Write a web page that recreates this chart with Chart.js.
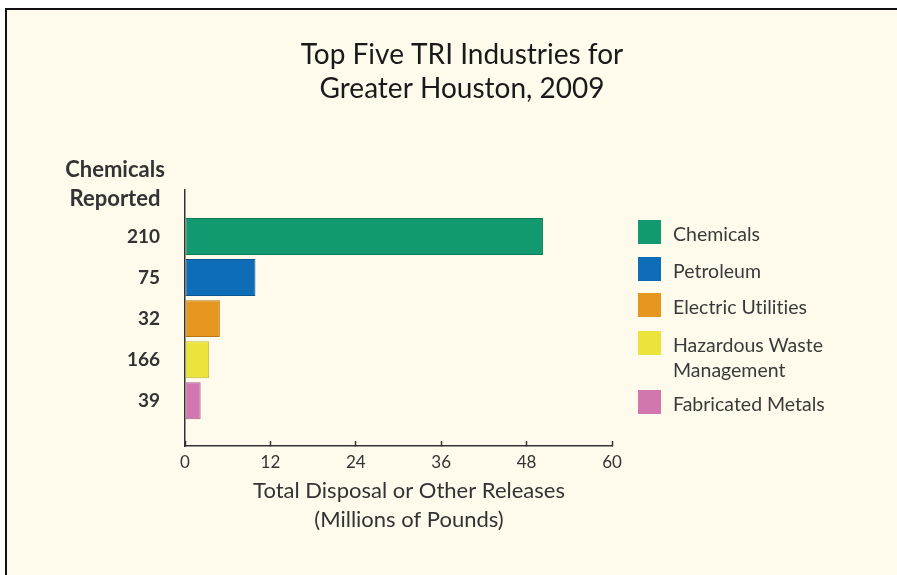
<!DOCTYPE html>
<html>
<head>
<meta charset="utf-8">
<script src="https://cdn.jsdelivr.net/npm/chart.js@4/dist/chart.umd.min.js"></script>
<style>
  html, body { margin: 0; padding: 0; background: #fff; }
  #frame {
    position: absolute; left: 5px; top: 8px; width: 892px; height: 567px;
    border-top: 2px solid #111; border-left: 2px solid #111;
    background: #fffbec; box-sizing: border-box;
  }
  #wrap { position: absolute; left: 0; top: 0; width: 897px; height: 575px; }
  #legend {
    position: absolute; left: 638px; top: 220px;
    font-family: Lato, sans-serif; font-size: 19.5px; color: #3a3a3a;
    font-variant-ligatures: none;
  }
  #legend .item { position: absolute; left: 0; white-space: nowrap; }
  #legend .sw { position: absolute; left: 0; top: 0; width: 23px; height: 24px; box-sizing: border-box; }
  #legend .txt { position: absolute; left: 35px; top: 1px; line-height: 25px; }
</style>
</head>
<body>
<div id="frame"></div>
<div id="wrap"><canvas id="chart"></canvas></div>
<div id="legend"></div>
<script>
const industries = ['Chemicals', 'Petroleum', 'Electric Utilities', 'Hazardous Waste\nManagement', 'Fabricated Metals'];
const chemicalsReported = ['210', '75', '32', '166', '39'];
const releases = [50.3, 9.9, 4.9, 3.4, 2.2];
const xTicks = [0, 12, 24, 36, 48, 60];
const titleLines = ['Top Five TRI Industries for', 'Greater Houston, 2009'];
const yHeading = ['Chemicals', 'Reported'];
const xHeading = ['Total Disposal or Other Releases', '(Millions of Pounds)'];

const fills   = ['#12996f', '#0f6cb6', '#e4961f', '#ece43c', '#d276b0'];
const borders = ['#0d7a58', '#0b5690', '#b97818', '#bdb52e', '#a95b8d'];
const legendTops = [0, 37, 73, 111, 170];

const textColor = '#333';

const headings = {
  id: 'headings',
  afterDraw(chart) {
    const ctx = chart.ctx;
    ctx.save();
    ctx.fillStyle = '#1a1a1a';
    ctx.textAlign = 'center';
    ctx.textBaseline = 'middle';
    ctx.font = '28px Lato, sans-serif';
    titleLines.forEach((t, i) => ctx.fillText(t, 462, 55 + i * 34));
    ctx.fillStyle = textColor;
    ctx.font = 'bold 22px Lato, sans-serif';
    yHeading.forEach((t, i) => ctx.fillText(t, 115, 170 + i * 29));
    // x axis heading sits a bit right of the plot centre in the original
    ctx.font = '22px Lato, sans-serif';
    xHeading.forEach((t, i) => ctx.fillText(t, 409, 491 + i * 29));
    ctx.restore();
  }
};

new Chart(document.getElementById('chart'), {
  type: 'bar',
  data: {
    datasets: [{
      data: releases.map((v, i) => ({ x: v, y: i })),
      backgroundColor: fills,
      borderColor: borders,
      borderWidth: 1,
      borderSkipped: false,
      barPercentage: 0.9,
      categoryPercentage: 1
    }]
  },
  options: {
    indexAxis: 'y',
    responsive: true,
    maintainAspectRatio: false,
    animation: false,
    layout: { padding: { left: 125, right: 285, top: 190, bottom: 41.5 } },
    plugins: { legend: { display: false }, tooltip: { enabled: false }, title: { display: false } },
    scales: {
      x: {
        type: 'linear',
        min: 0, max: 60,
        bounds: 'data',
        afterBuildTicks: s => { s.ticks = xTicks.map(v => ({ value: v })); },
        afterFit: s => { s.height = 87.5; },
        border: { display: true, color: '#333', width: 1.5 },
        grid: { display: true, drawOnChartArea: false, drawTicks: true, tickLength: -5, tickColor: '#333', tickWidth: 1.5 },
        ticks: { padding: 11, color: textColor, font: { family: 'Lato, sans-serif', size: 17 }, maxRotation: 0 }
      },
      y: {
        type: 'linear',
        reverse: true,
        offset: false,
        bounds: 'data',
        min: -1.13, max: 5.1,
        afterBuildTicks: s => { s.ticks = chemicalsReported.map((_, i) => ({ value: i })); },
        afterFit: s => { s.width = 60; },
        border: { display: true, color: '#333', width: 1.5 },
        grid: { display: false, drawTicks: false, offset: false },
        ticks: {
          padding: 25, autoSkip: false,
          color: textColor, font: { family: 'Lato, sans-serif', size: 19, weight: 'bold' },
          callback: v => chemicalsReported[v]
        }
      }
    }
  },
  plugins: [headings]
});

const legend = document.getElementById('legend');
legend.innerHTML = industries.map((name, i) => `
  <div class="item" style="top:${legendTops[i]}px">
    <div class="sw" style="background:${fills[i]}"></div>
    <div class="txt">${name.replace('\n', '<br>')}</div>
  </div>`).join('');
</script>
</body>
</html>
